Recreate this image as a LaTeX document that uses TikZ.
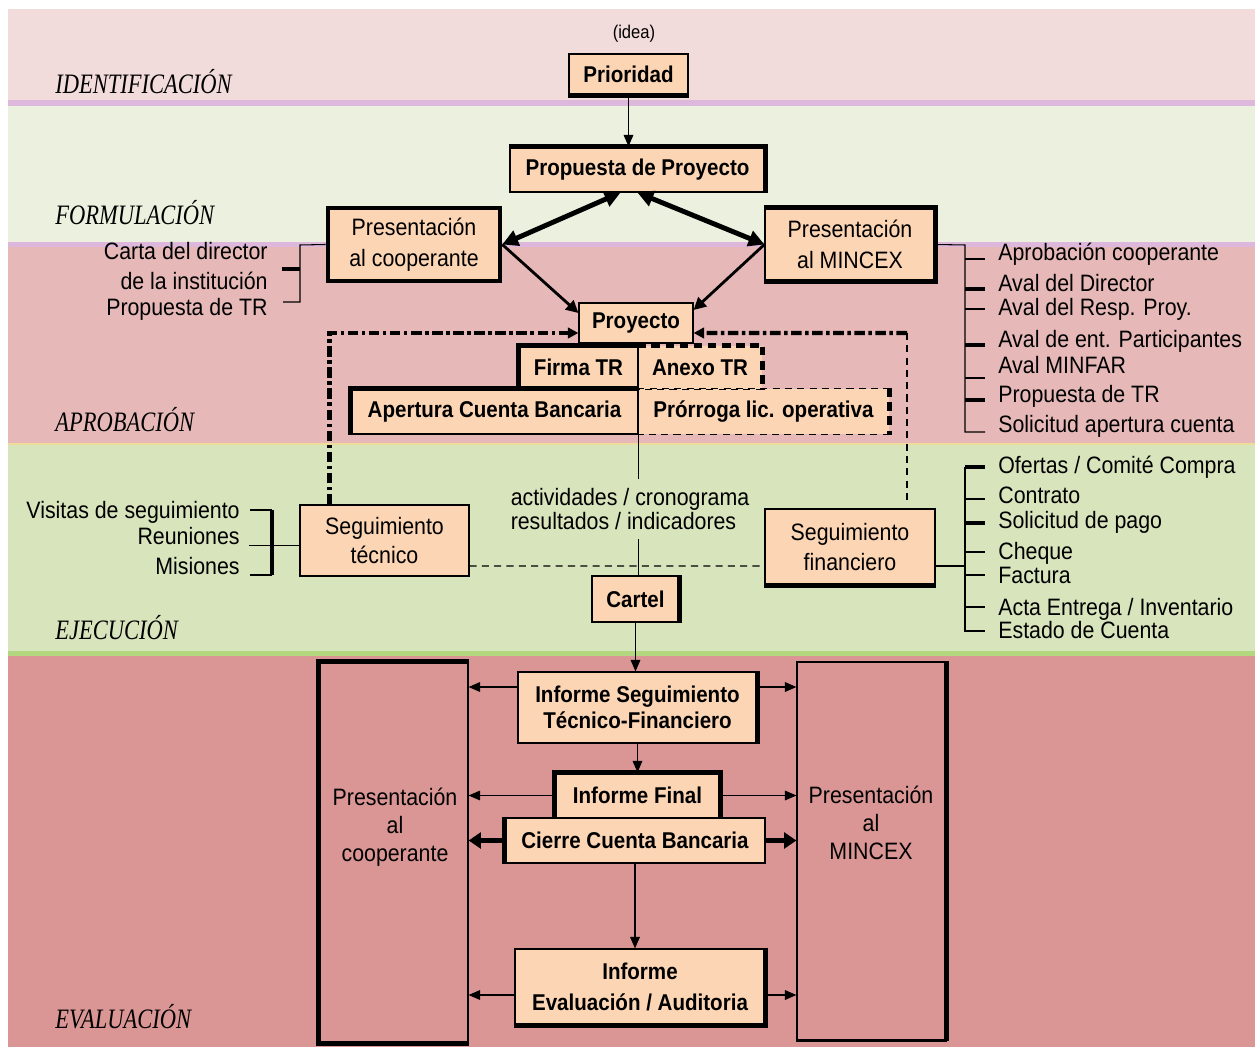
\documentclass[tikz,border=0pt]{standalone}
\usepackage{fontspec}
\setmainfont[FakeStretch=0.9]{Liberation Sans}
\newfontfamily\phasefont[FakeStretch=0.8]{Liberation Serif}
\usetikzlibrary{positioning,arrows.meta,calc}

\definecolor{peach}{HTML}{FCD5B4}
\definecolor{identbg}{HTML}{F2DCDB}
\definecolor{formbg}{HTML}{EBF1DE}
\definecolor{aprobbg}{HTML}{E6B9B8}
\definecolor{ejecbg}{HTML}{D8E4BC}
\definecolor{evalbg}{HTML}{DA9694}
\definecolor{lavender}{HTML}{DDB8DC}
\definecolor{greenline}{HTML}{B3D77E}
\definecolor{yellowline}{HTML}{EEDC9A}

\begin{document}
\begin{tikzpicture}[x=0.02cm, y=-0.02cm,
    box/.style={draw, line width=0.7pt, fill=peach, inner sep=0pt, align=center,
      font=\fontsize{13.5}{17.5}\selectfont},
    flowbox/.style={box, font=\fontsize{13}{15}\selectfont\bfseries},
    heavy/.style={line width=2.6pt},
    heavydash/.style={line width=2.6pt, dash pattern=on 5pt off 3pt},
    thindash/.style={line width=0.6pt, dash pattern=on 4pt off 3pt},
    dashdot/.style={line width=2.4pt, dash pattern=on 6pt off 2pt on 2pt off 2pt},
    dasharr/.style={dashdot, -{Triangle[length=6pt,width=6pt]}},
    link/.style={line width=0.6pt},
    arr/.style={line width=0.6pt, -{Triangle[length=6.5pt,width=5.5pt]}},
    midarr/.style={line width=1.6pt, -{Triangle[length=7pt,width=7pt]}},
    bigarr/.style={line width=2.8pt, {Triangle[length=9pt,width=9pt]}-{Triangle[length=9pt,width=9pt]}},
    thickarr/.style={line width=2.8pt, -{Triangle[length=7pt,width=9pt]}},
    phase/.style={anchor=west, inner sep=0pt, font=\phasefont\itshape\fontsize{16}{18}\selectfont},
    item/.style={anchor=west, inner sep=0pt, text height=9.5pt, text depth=2.5pt,
      font=\fontsize{13.5}{15}\selectfont},
    itemr/.style={item, anchor=east}
  ]
  \useasboundingbox (0,0) rectangle (1255,1047);

  % Background bands
  \fill[identbg] (8,9) rectangle (1255,100);
  \fill[lavender] (8,100) rectangle (1255,106);
  \fill[formbg] (8,106) rectangle (1255,242);
  \fill[lavender] (8,242) rectangle (1255,247);
  \fill[aprobbg] (8,247) rectangle (1255,443);
  \fill[yellowline] (8,443) rectangle (1255,445);
  \fill[ejecbg] (8,445) rectangle (1255,651);
  \fill[greenline] (8,651) rectangle (1255,656);
  \fill[evalbg] (8,656) rectangle (1255,1047);

  % Phase labels
  \node[phase] (identif) at (55,82) {IDENTIFICACIÓN};
  \node[phase] (formul) at (55,213) {FORMULACIÓN};
  \node[phase] (aprob) at (55,420) {APROBACIÓN};
  \node[phase] (ejec) at (55,628) {EJECUCIÓN};
  \node[phase] (evalu) at (55,1017) {EVALUACIÓN};

  % Identification and formulation
  \node[font=\fontsize{10.5}{12}\selectfont] (idea) at (634,34) {(idea)};
  \node[flowbox, minimum width=2.38cm, minimum height=0.82cm] (prio) at (628.5,74.5) {Prioridad};
  \node[flowbox, minimum width=5.1cm, minimum height=0.9cm] (prop) at (637.5,169.5) {Propuesta de Proyecto};
  \node[box, line width=2.6pt, minimum width=3.44cm, minimum height=1.46cm] (pcoop) at (414,244.5) {Presentación\\al cooperante};
  \node[box, minimum width=3.4cm, minimum height=1.46cm] (pmincex) at (850,244.5) {Presentación\\al MINCEX};
  \draw[heavy] (prio.south west) -- (prio.south east);
  \draw[heavy] (prop.north west) -- (prop.north east) -- (prop.south east);
  \draw[heavy] (pmincex.north west) -- (pmincex.north east) -- (pmincex.south east) -- (pmincex.south west);

  % Approval
  \node[box, minimum width=2.28cm, minimum height=0.8cm, font=\fontsize{13}{15}\selectfont\bfseries] (proy) at (636,323) {Proyecto};
  \node[flowbox, minimum width=2.38cm, minimum height=0.86cm] (firma) at (578.5,367.5) {Firma TR};
  \node[flowbox, draw=none, minimum width=2.48cm, minimum height=0.86cm] (anexo) at (700,367.5) {Anexo TR};
  \node[flowbox, minimum width=5.74cm, minimum height=0.9cm] (apert) at (494.5,411.5) {Apertura Cuenta Bancaria};
  \node[flowbox, draw=none, minimum width=5.02cm, minimum height=0.9cm] (prorr) at (763.5,411.5) {Prórroga lic. operativa};
  \draw[heavy] (firma.south west) -- (firma.north west) -- (firma.north east);
  \draw[heavy] (apert.south west) -- (apert.north west) -- (apert.north east);
  \draw[heavydash] (anexo.north west) -- (anexo.north east) -- (anexo.south east);
  \draw[thindash] (anexo.south east) -- (anexo.south west);
  \draw[thindash] (prorr.north west) -- (prorr.north east);
  \draw[heavydash] (prorr.north east) -- (prorr.south east);
  \draw[thindash] (prorr.south east) -- (prorr.south west);

  % Execution
  \node[box, minimum width=3.38cm, minimum height=1.42cm, font=\fontsize{13.5}{17}\selectfont] (segt) at (384.5,540.5) {Seguimiento\\técnico};
  \node[box, minimum width=3.4cm, minimum height=1.52cm, font=\fontsize{13.5}{17}\selectfont] (segf) at (850,547) {Seguimiento\\financiero};
  \node[flowbox, minimum width=1.74cm, minimum height=0.92cm] (cartel) at (635.5,599) {Cartel};
  \draw[heavy] (segf.south west) -- (segf.south east);
  \draw[heavy] (cartel.north east) -- (cartel.south east);

  % Evaluation
  \node[draw, line width=0.7pt, minimum width=2.98cm, minimum height=7.62cm] (bigcoop) at (393.5,852.5) {};
  \node[draw, line width=0.7pt, minimum width=2.98cm, minimum height=7.56cm] (bigmincex) at (871.5,851) {};
  \node[align=center, font=\fontsize{13.5}{16}\selectfont] (bigcooptxt) at (395,827) {Presentación\\al\\cooperante};
  \node[align=center, font=\fontsize{13.5}{16}\selectfont] (bigmincextxt) at (871,823) {Presentación\\al\\MINCEX};
  \draw[heavy] (bigcoop.north east) -- (bigcoop.north west) -- (bigcoop.south west) -- (bigcoop.south east);
  \draw[heavy] (bigmincex.north east) -- (bigmincex.south east);
  \draw[line width=1.6pt] (bigmincex.south west) -- (bigmincex.south east);
  \node[flowbox, minimum width=4.78cm, minimum height=1.42cm] (infseg) at (637.5,707.5) {Informe Seguimiento\\Técnico-Financiero};
  \node[flowbox, minimum width=3.3cm, minimum height=0.9cm] (inffin) at (637.5,795.5) {Informe Final};
  \node[flowbox, minimum width=5.2cm, minimum height=0.9cm] (cierre) at (635,840.5) {Cierre Cuenta Bancaria};
  \node[flowbox, minimum width=5cm, minimum height=1.52cm, font=\fontsize{13}{17.5}\selectfont\bfseries] (infeval) at (640,987) {Informe\\Evaluación / Auditoria};
  \draw[heavy] (infseg.north east) -- (infseg.south east);
  \draw[heavy] (inffin.south west) -- (inffin.north west) -- (inffin.north east) -- (inffin.south east);
  \draw[heavy] (cierre.north west) -- (cierre.south west);
  \draw[heavy] (infeval.north east) -- (infeval.south east) -- (infeval.south west);

  % Main flow
  \draw[arr] (prio.south) -- (prio.south |- prop.north);
  \draw[bigarr] (pcoop.east) -- ([xshift=-0.34cm]prop.south);
  \draw[bigarr] (prop.south) -- (pmincex.west);
  \draw[midarr] (pcoop.east) -- ([yshift=0.2cm]proy.west);
  \draw[midarr] (pmincex.west) -- ([yshift=0.26cm]proy.east);
  \draw[link] (firma.north east) -- (firma.north east |- cartel.north);
  \node[fill=ejecbg, inner xsep=2pt, inner ysep=5pt, align=left, font=\fontsize{13.5}{14.2}\selectfont] (activ) at (630,509) {actividades / cronograma\\resultados / indicadores};

  % Follow-up links
  \coordinate (fincorner) at (907,333);
  \coordinate (finend) at (907,500);
  \draw[dasharr] ($(segt.north west)+(30,0)$) |- ([yshift=-0.2cm]proy.west);
  \draw[dasharr] (fincorner) -- ([yshift=-0.2cm]proy.east);
  \draw[thindash] (fincorner) -- (finend);
  \draw[thindash] ([yshift=-0.51cm]segt.east) -- ([yshift=-0.38cm]segf.west);

  % Evaluation arrows
  \draw[arr] (cartel.south) -- (cartel.south |- infseg.north);
  \draw[arr] (infseg.south) -- (inffin.north);
  \draw[arr] (cierre.south) -- (cierre.south |- infeval.north);
  \draw[arr] ([yshift=0.41cm]infseg.west) coordinate (isl) -- (isl -| bigcoop.east);
  \draw[arr] (isl -| infseg.east) -- (isl -| bigmincex.west);
  \draw[arr] (inffin.west) -- (inffin.west -| bigcoop.east);
  \draw[arr] (inffin.east) -- (inffin.east -| bigmincex.west);
  \draw[thickarr] (cierre.west) -- (cierre.west -| bigcoop.east);
  \draw[thickarr] (cierre.east) -- (cierre.east -| bigmincex.west);
  \draw[arr] ([yshift=-0.16cm]infeval.west) coordinate (iel) -- (iel -| bigcoop.east);
  \draw[arr] (iel -| infeval.east) -- (iel -| bigmincex.west);

  % Left list: letter to the cooperant
  \coordinate (cartatop) at (300,245);
  \coordinate (cartabot) at (300,302);
  \draw[link] (pcoop.west) -- (cartatop) -- (cartabot) -- ++(-17,0);
  \draw[heavy] (300,269) -- (282,269);
  \node[itemr] (carta1) at (268,253) {Carta del director};
  \node[itemr] (carta2) at (268,283) {de la institución};
  \node[itemr] (carta3) at (268,309) {Propuesta de TR};

  % Right list: approval documents
  \coordinate (aptop) at (965,245);
  \coordinate (apbot) at (965,432);
  \draw[link] (pmincex.east) -- (aptop) -- (apbot) -- ++(20,0);
  \foreach \y in {259,309,378} \draw[link] (965,\y) -- (985,\y);
  \foreach \y in {289,345,400} \draw[heavy] (965,\y) -- (985,\y);
  \node[item] (ap1) at (998,254) {Aprobación cooperante};
  \node[item] (ap2) at (998,285) {Aval del Director};
  \node[item] (ap3) at (998,309) {Aval del Resp. Proy.};
  \node[item] (ap4) at (998,341) {Aval de ent. Participantes};
  \node[item] (ap5) at (998,367) {Aval MINFAR};
  \node[item] (ap6) at (998,396) {Propuesta de TR};
  \node[item] (ap7) at (998,426) {Solicitud apertura cuenta};

  % Left list: technical follow-up
  \coordinate (vistop) at (272,510);
  \coordinate (visbot) at (272,575);
  \draw[heavy] (vistop) -- (visbot);
  \draw[link] (vistop) -- ++(-22,0);
  \draw[link] (visbot) -- ++(-22,0);
  \draw[link] ([yshift=-0.1cm]segt.west) -- ++(-50,0);
  \node[itemr] (vis1) at (240,512) {Visitas de seguimiento};
  \node[itemr] (vis2) at (240,538) {Reuniones};
  \node[itemr] (vis3) at (240,568) {Misiones};

  % Right list: financial follow-up
  \coordinate (oftop) at (965,467);
  \coordinate (ofbot) at (965,631);
  \draw[link] (oftop) -- (ofbot) -- ++(20,0);
  \draw[link] ([yshift=-0.38cm]segf.east) -- ++(30,0);
  \foreach \y in {499,552,575,607} \draw[link] (965,\y) -- (985,\y);
  \foreach \y in {467,523} \draw[heavy] (965,\y) -- (985,\y);
  \node[item] (of1) at (998,467) {Ofertas / Comité Compra};
  \node[item] (of2) at (998,497) {Contrato};
  \node[item] (of3) at (998,522) {Solicitud de pago};
  \node[item] (of4) at (998,553) {Cheque};
  \node[item] (of5) at (998,577) {Factura};
  \node[item] (of6) at (998,609) {Acta Entrega / Inventario};
  \node[item] (of7) at (998,632) {Estado de Cuenta};
\end{tikzpicture}
\end{document}
